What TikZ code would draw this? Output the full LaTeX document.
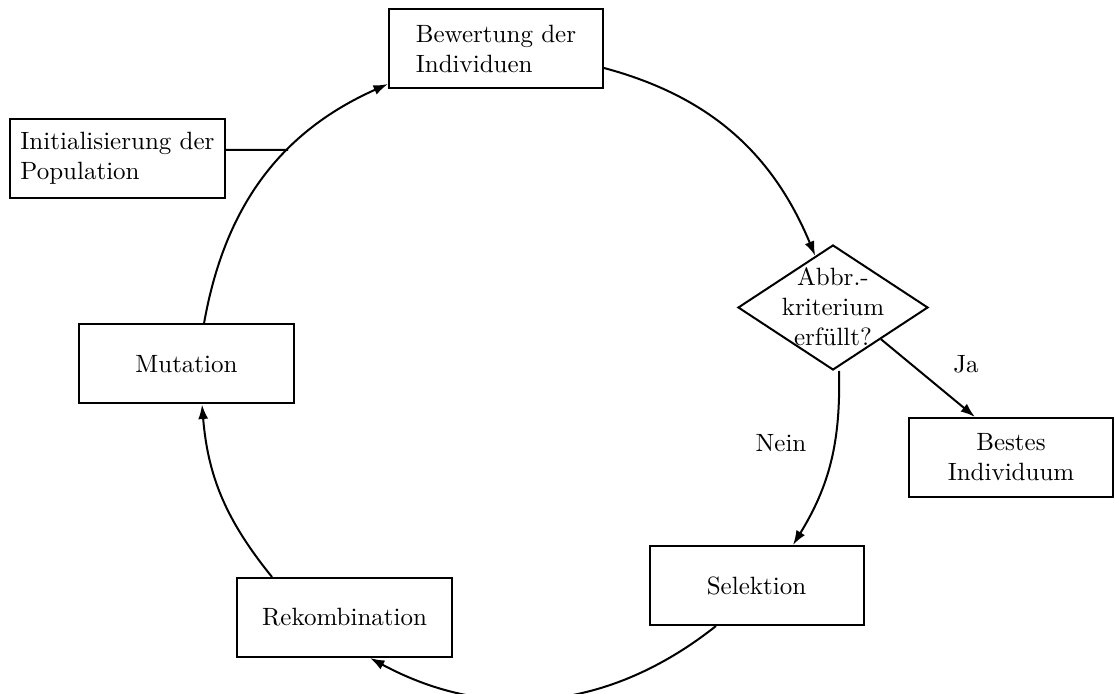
\documentclass[tikz,border=0pt]{standalone}
\usetikzlibrary{shapes.geometric,arrows.meta,intersections}
\begin{document}
\begin{tikzpicture}[x=0.4pt,y=0.4pt, line width=0.8pt,
  box/.style={draw, rectangle, minimum width=85.6pt, minimum height=31.6pt, inner sep=0pt},
  decision/.style={draw, diamond, minimum width=76pt, minimum height=50pt, inner sep=0pt},
  arr/.style={-{Latex[length=5.8pt,width=4pt]}},
  lbl/.style={inner sep=0pt}]
\useasboundingbox (0,0) rectangle (1115,694);
\node[box, align=left] (bew) at (496,645.5) {Bewertung der\\Individuen};
\node[box, align=left] (init) at (117.5,535.5) {Initialisierung der\\Population};
\node[decision] (dia) at (833,386.5) {};
\node[align=center, inner sep=0pt] (diat) at ([yshift=0.5pt]dia.center) {Abbr.-\\kriterium\\erfüllt?};
\node[box] (mut) at (186.5,330) {Mutation};
\node[box, minimum width=81.6pt, align=center] (best) at (1011,236.5) {Bestes\\Individuum};
\node[box] (sel) at (756.5,108.5) {Selektion};
\node[box] (rek) at (344.5,76.5) {Rekombination};
\node[lbl] (ja) at (966,330) {Ja};
\node[lbl] (nein) at (781,251) {Nein};
\draw[arr, name path=mb] ([xshift=7pt]mut.north) to[out=80, in=204] ([yshift=2pt]bew.south west);
\draw[arr] ([yshift=-7.8pt]bew.east) to[out=-15, in=112.6] (dia.109);
\draw[arr] ([xshift=2.4pt]dia.south) to[out=-88.6, in=58.4] ([xshift=14.6pt]sel.north);
\draw[arr] ([xshift=-16.2pt]sel.south) to[out=-141.6, in=-28.3] ([xshift=10.2pt]rek.south);
\draw[arr] ([xshift=-29pt]rek.north) to[out=129, in=-85.3] ([xshift=6.2pt]mut.south);
\draw[arr] (dia.south east) -- ([xshift=-14.4pt]best.north);
\path[name path=hl] ([yshift=3.4pt]init.east) -- ++(120pt,0);
\draw[name intersections={of=mb and hl, by=ix}] ([yshift=3.4pt]init.east) -- (ix);
\end{tikzpicture}
\end{document}
